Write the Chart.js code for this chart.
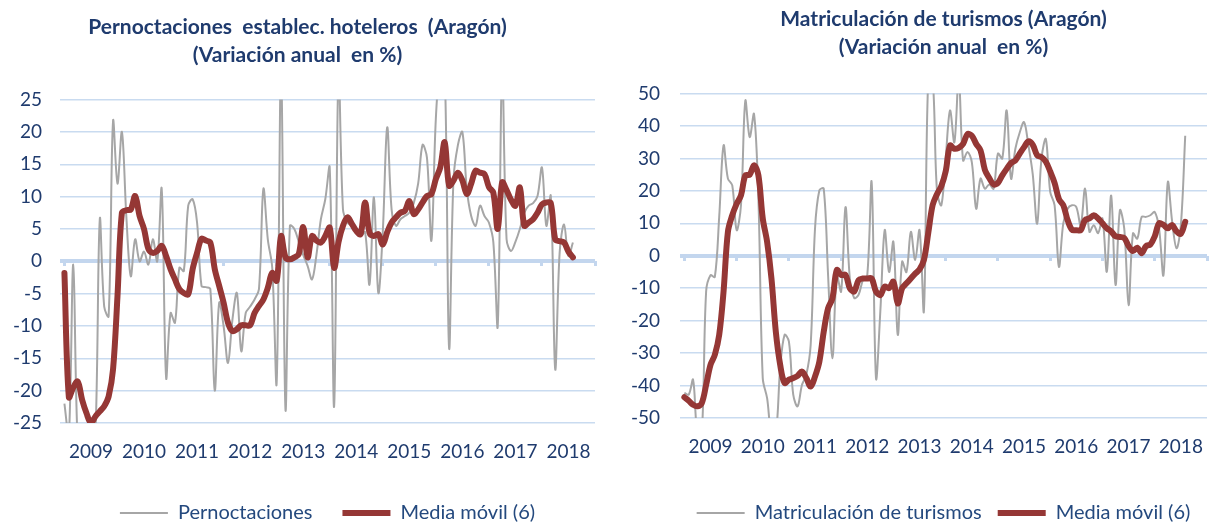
<!DOCTYPE html>
<html>
<head>
<meta charset="utf-8">
<script src="https://cdn.jsdelivr.net/npm/chart.js@4.4.1/dist/chart.umd.min.js"></script>
<style>
  html, body { margin: 0; padding: 0; background: #fff; overflow: hidden; }
  .box { position: absolute; top: 0; height: 525px; overflow: hidden; }
  #left { left: 0; width: 597px; }
  #right { left: 610px; width: 599px; }
</style>
</head>
<body>
<div class="box" id="left"><canvas id="hoteles" width="597" height="533"></canvas></div>
<div class="box" id="right"><canvas id="turismos" width="599" height="533"></canvas></div>
<script>
// years shown on the x axis, data is monthly (ene 2009 - ago 2018)
const years = ['2009', '2010', '2011', '2012', '2013', '2014', '2015', '2016', '2017', '2018'];

// Pernoctaciones establec. hoteleros (Aragón), variación anual %
const pernoctaciones = [
  -22, -27, -0.5, -28, -30, -30, -29, -27, 6.5, -7, -8.5, 21.7,
  12, 20, 7, -2.3, 3.4, 0, 1.5, -0.5, 3.4, 0, 11.2, -18,
  -8, -9.5, -1, -1.5, 8.6, 9.6, 6, -3.8, -4, -4.3, -20, -6.4,
  -10, -15.7, -9, -4.9, -13.9, -8, -7, -5.9, -4.3, 11.2, 3.4, -1,
  -18.8, 30, -23, 5.5, 5, 3, 1, -0.7, -2.8, 1, 6.5, 9.6,
  14.5, -22.4, 30, 8, 6, 5.5, 4.4, 3.9, 4.5, -3.6, 9.9, -4.9,
  4.5, 20.7, 8, 5.5, 6.5, 7, 7.5, 9, 12, 18, 16, 3.2,
  22, 30, 30, -13.4, 12.7, 18, 20, 11.2, 7, 5.5, 8.6, 7,
  6, 3, -10, 30, 3.4, 1.6, 3, 5, 7.5, 8.6, 9, 10.1,
  14.5, 5.5, 10.1, -16.7, 1.3, 5.7, 0.8, 2.9
];
const pernoctacionesMedia = [
  -1.8, -21, -19.5, -18.6, -21.4, -23.5, -25, -24, -23.2, -22.4, -20.9, -16.7,
  -5.4, 7.5, 7.9, 8, 10.1, 7, 5, 1.9, 1.3, 1.6, 2.4, 0.8,
  -1.2, -2.8, -4.3, -4.9, -5.1, -1.2, 1.3, 3.5, 3.2, 2.9, -1.2, -3.8,
  -6.4, -9.5, -10.8, -10.5, -9.9, -9.9, -9.9, -8, -6.9, -5.9, -4.1, -1.8,
  -3, 3.9, 0.6, 0.3, 0.6, 1.1, 5.3, 0.6, 3.9, 3.2, 2.9, 3.9,
  5.2, -1, 3, 5.5, 6.8, 5.8, 4.7, 4.2, 9.1, 4.4, 3.9, 4.2,
  2.6, 4.5, 6, 6.8, 7.5, 7.8, 9.3, 7.3, 8, 9.1, 10.1, 10.4,
  12.7, 14.5, 18.4, 11.7, 12.5, 13.7, 12.5, 10.4, 12, 14, 13.7, 13.5,
  11.5, 10.6, 5, 12.2, 11, 9.5, 8.6, 11.4, 5.5, 6, 6.5, 7.5,
  8.8, 9.1, 9, 3.4, 3.1, 2.9, 1.5, 0.6
];

// Matriculación de turismos (Aragón), variación anual %
const matriculacion = [
  -42.3, -42.8, -38.2, -55, -55, -11, -6, -6.5, 12, 34, 23.8, 21.7,
  7.9, 15.6, 47.8, 36.6, 43.7, 17.6, -37.7, -43.9, -55, -55, -34.6, -24.4,
  -26.4, -42.8, -46.4, -39.8, -36.7, -27.5, 8.4, 20.2, 20.7, -6, -31.6, -6,
  -11, 15, -7, -13, -12, -7.5, -6, 22.7, -37.7, -17, 7.9, -5,
  4.3, -24.4, -1.8, -5, 7.4, -1.3, 7.9, -17, 55, 55, 20, 15.6,
  30, 44.8, 35, 55, 29.4, 32, 28.9, 14.5, 23.8, 20.7, 22, 20.7,
  31.5, 30, 44.8, 23.8, 33, 38, 41.2, 34, 25, 9.9, 30, 36,
  19.7, 15.6, -3.4, 10, 14.5, 15.6, 15, 9.4, 20.7, 7.4, 9.4, 7,
  11.5, -4.9, 18.6, -9, 14, 8.4, -15.2, 6.9, 5.3, 12, 12, 12.5,
  13.5, 8.4, -6, 22.7, 10.5, 2.3, 9.4, 37
];
const matriculacionMedia = [
  -43.6, -44.7, -45.9, -46.4, -45.4, -39.8, -33.6, -30.5, -24.4, -11, 7.4, 12.5,
  16, 18.6, 24.8, 25, 27.9, 24.8, 11.5, 4.3, -7, -23.4, -33.6, -39.2,
  -38.2, -37.7, -37, -35.7, -37.7, -40.3, -37.2, -32.6, -23.4, -16.2, -13.1, -4.4,
  -5.9, -5.9, -10, -11, -7.5, -7, -7, -7, -11, -12.1, -9.5, -10,
  -8, -14.7, -10, -8.5, -7, -5.5, -4.2, -1.3, 7, 15.6, 19, 21.5,
  26, 34, 33, 33.3, 34.5, 37.5, 37, 34.5, 32.5, 26.5, 24, 22,
  22.5, 24.8, 26.8, 28.6, 29.4, 31.5, 33.5, 35.3, 34.2, 31, 30.4, 29,
  26, 22.5, 17.5, 15.6, 11, 8, 7.9, 7.9, 11, 11.5, 12.5, 11.5,
  10, 8.5, 7.5, 6, 5.8, 5.5, 3, 1.5, 2.5, 0.8, 3, 3.5,
  6, 10, 9.5, 8.5, 9.5, 7.5, 6.8, 10.5
];

// monthly categories built from the years, with one empty slot at each end
// so the series sit a little inside the gridlines like in the original
const months = [''];
years.forEach((y) => {
  for (let m = 1; m <= 12; m++) months.push(y + '-' + m);
});
months.push('');

const navy = '#1f3b6e';
const legendBlue = '#24497e';
const gridBlue = '#c9dbf0';
const zeroBlue = '#c3d6ee';

const makeChart = (id, o) => {
  const ctx = document.getElementById(id);
  return new Chart(ctx, {
    type: 'line',
    data: {
      labels: months,
      datasets: [
        {
          label: o.name,
          data: [null].concat(o.serie),
          borderColor: '#a6a6a6',
          backgroundColor: '#a6a6a6',
          borderWidth: 2,
          pointRadius: 0,
          tension: 0.35,
          order: 1
        },
        {
          label: 'Media móvil (6)',
          data: [null].concat(o.media),
          borderColor: '#953735',
          backgroundColor: '#953735',
          borderWidth: 6,
          borderCapStyle: 'round',
          borderJoinStyle: 'round',
          pointRadius: 0,
          tension: 0.35,
          order: 0
        }
      ]
    },
    options: {
      responsive: false,
      animation: false,
      layout: { padding: { left: 0, right: 2, top: 0, bottom: 0 } },
      plugins: {
        title: {
          display: true,
          text: o.title,
          fullSize: o.titleFull,
          color: navy,
          font: { family: 'Lato', size: 21, weight: 'bold', lineHeight: 1.3 },
          padding: { top: o.titleTop, bottom: o.titleBottom }
        },
        legend: {
          position: 'bottom',
          fullSize: false,
          labels: {
            color: legendBlue,
            font: { family: 'Lato', size: 20 },
            usePointStyle: true,
            pointStyle: 'line',
            pointStyleWidth: o.legendBox,
            padding: o.legendPad,
            sort: (a, b) => a.datasetIndex - b.datasetIndex
          }
        },
        tooltip: { enabled: false }
      },
      scales: {
        x: {
          type: 'category',
          // hidden tick marks only give the room above the year labels
          grid: { display: false, drawTicks: true, tickLength: 17 },
          border: { display: false },
          ticks: {
            autoSkip: false,
            maxRotation: 0,
            minRotation: 0,
            padding: 0,
            color: navy,
            font: { family: 'Lato', size: 19 },
            callback: (value, index) => ((index - 1) % 12 === 6 ? years[Math.floor((index - 1) / 12)] : '')
          },
          afterFit: (scale) => { scale.height = o.xHeight; }
        },
        x2: {
          type: 'category',
          position: { y: 0 },
          ticks: { display: false, padding: 0 },
          border: { display: false },
          grid: {
            drawOnChartArea: false,
            drawTicks: true,
            tickLength: 5,
            tickWidth: 3,
            tickColor: (c) => (c.index > 0 && (c.index - 1) % 12 === 0 ? zeroBlue : 'rgba(0,0,0,0)')
          },
          afterFit: (scale) => { scale.height = 0; }
        },
        y: {
          min: o.yMin,
          max: o.yMax,
          border: { display: false },
          grid: {
            drawTicks: false,
            color: (c) => (c.tick.value === 0 ? zeroBlue : gridBlue),
            lineWidth: (c) => (c.tick.value === 0 ? 4 : 1.5)
          },
          ticks: {
            stepSize: o.yStep,
            padding: o.yPad,
            color: navy,
            font: { family: 'Lato', size: 19 }
          },
          afterFit: (scale) => { scale.width = o.yWidth; }
        }
      }
    }
  });
};

makeChart('hoteles', {
  title: ['Pernoctaciones  establec. hoteleros  (Aragón)', '(Variación anual  en %)'],
  titleFull: true,
  titleTop: 14,
  titleBottom: 31,
  name: 'Pernoctaciones',
  serie: pernoctaciones,
  media: pernoctacionesMedia,
  yMin: -25, yMax: 25, yStep: 5,
  yWidth: 60, yPad: 18,
  xHeight: 50,
  legendBox: 48,
  legendPad: 30
});

makeChart('turismos', {
  title: ['Matriculación de turismos (Aragón)', '(Variación anual  en %)'],
  titleFull: false,
  titleTop: 6,
  titleBottom: 33,
  name: 'Matriculación de turismos',
  serie: matriculacion,
  media: matriculacionMedia,
  yMin: -50, yMax: 50, yStep: 10,
  yWidth: 70, yPad: 20,
  xHeight: 69,
  legendBox: 48,
  legendPad: 16
});
</script>
</body>
</html>
